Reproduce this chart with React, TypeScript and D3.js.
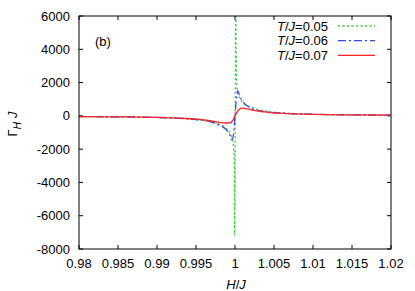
import { useEffect, useRef } from 'react'
import * as d3 from 'd3'

// Γ_H J vs H/J near the critical field, three temperatures
const xTicks = [0.98, 0.985, 0.99, 0.995, 1, 1.005, 1.01, 1.015, 1.02]
const yTicks = [-8000, -6000, -4000, -2000, 0, 2000, 4000, 6000]

const seriesT005: [number, number][] = [
  [0.98, -45], [0.985, -60], [0.99, -95], [0.993, -150], [0.995, -220], [0.997, -380],
  [0.998, -520], [0.9988, -700], [0.9993, -1000], [0.9996, -1300], [0.9998, -1800],
  [0.99991, -3000], [0.99996, -7200], [1.00003, 0], [1.0001, 7200], [1.00016, 3000],
  [1.00026, 1800], [1.0004, 1300], [1.0007, 1000], [1.0012, 700], [1.002, 520],
  [1.003, 380], [1.005, 220], [1.007, 150], [1.01, 95], [1.015, 60], [1.02, 45],
]
const seriesT006: [number, number][] = [
  [0.98, -45], [0.985, -60], [0.99, -95], [0.993, -150], [0.995, -220], [0.997, -380],
  [0.998, -560], [0.9988, -800], [0.9993, -1100], [0.9996, -1440], [0.9998, -1150],
  [1.0, 0], [1.0002, 1150], [1.00035, 1520], [1.0006, 1180], [1.001, 850],
  [1.0015, 620], [1.002, 480], [1.003, 320], [1.005, 200], [1.007, 140],
  [1.01, 95], [1.015, 60], [1.02, 45],
]
const seriesT007: [number, number][] = [
  [0.98, -45], [0.985, -60], [0.99, -90], [0.993, -140], [0.995, -200], [0.997, -310],
  [0.998, -390], [0.9988, -430], [0.9993, -420], [0.9997, -280], [1.0, 0],
  [1.0003, 250], [1.0006, 410], [1.0009, 460], [1.0013, 440], [1.002, 370],
  [1.003, 280], [1.005, 180], [1.007, 130], [1.01, 90], [1.015, 60], [1.02, 45],
]
const temps = ['0.05', '0.06', '0.07']

export default function App() {
  const ref = useRef<SVGSVGElement>(null)

  useEffect(() => {
    const svg = d3.select(ref.current)
    svg.selectAll('*').remove()

    const m = { left: 79, right: 391, top: 16, bottom: 249 }
    const x = d3.scaleLinear().domain([0.98, 1.02]).range([m.left, m.right])
    const y = d3.scaleLinear().domain([-8000, 6000]).range([m.bottom, m.top])
    const font = 'Liberation Sans, Arial, sans-serif'

    svg.append('defs').append('clipPath').attr('id', 'plotclip')
      .append('rect')
      .attr('x', m.left).attr('y', m.top)
      .attr('width', m.right - m.left).attr('height', m.bottom - m.top)

    // ticks, mirrored on all four sides
    const tl = 4
    const tg = svg.append('g').attr('stroke', '#000').attr('stroke-width', 1)
    xTicks.forEach(t => {
      tg.append('line').attr('x1', x(t)).attr('x2', x(t)).attr('y1', m.bottom).attr('y2', m.bottom - tl)
      tg.append('line').attr('x1', x(t)).attr('x2', x(t)).attr('y1', m.top).attr('y2', m.top + tl)
    })
    yTicks.forEach(t => {
      tg.append('line').attr('x1', m.left).attr('x2', m.left + tl).attr('y1', y(t)).attr('y2', y(t))
      tg.append('line').attr('x1', m.right).attr('x2', m.right - tl).attr('y1', y(t)).attr('y2', y(t))
    })

    svg.append('g').selectAll('text').data(xTicks).enter().append('text')
      .attr('x', d => x(d)).attr('y', 268)
      .attr('text-anchor', 'middle')
      .style('font-family', font).style('font-size', '13px')
      .text(d => String(d))

    svg.append('g').selectAll('text').data(yTicks).enter().append('text')
      .attr('x', 70).attr('y', d => y(d) + 4.5)
      .attr('text-anchor', 'end')
      .style('font-family', font).style('font-size', '13px')
      .text(d => String(d))

    // curves
    const line = d3.line<[number, number]>()
      .x(d => x(d[0])).y(d => y(d[1]))
      .curve(d3.curveMonotoneX)
    const plot = svg.append('g').attr('clip-path', 'url(#plotclip)')
    const styles = [
      { data: seriesT005, color: '#33cc33', dash: '2,2.5' },
      { data: seriesT006, color: '#3344ff', dash: '8,3,2,3' },
      { data: seriesT007, color: '#ff2020', dash: null },
    ]
    styles.forEach(s => {
      plot.append('path')
        .attr('d', line(s.data))
        .attr('fill', 'none')
        .attr('stroke', s.color)
        .attr('stroke-width', 1.3)
        .attr('stroke-dasharray', s.dash)
    })

    // frame
    svg.append('rect')
      .attr('x', m.left).attr('y', m.top)
      .attr('width', m.right - m.left).attr('height', m.bottom - m.top)
      .attr('fill', 'none').attr('stroke', '#000').attr('stroke-width', 1)

    // legend
    const rows = [26, 40.7, 55.3]
    styles.forEach((s, i) => {
      const t = svg.append('text')
        .attr('x', 328).attr('y', rows[i] + 4.5)
        .attr('text-anchor', 'end')
        .style('font-family', font).style('font-size', '13px')
      t.append('tspan').style('font-style', 'italic').text('T')
      t.append('tspan').text('/')
      t.append('tspan').style('font-style', 'italic').text('J')
      t.append('tspan').text('=' + temps[i])
      svg.append('line')
        .attr('x1', 338).attr('x2', 375).attr('y1', rows[i]).attr('y2', rows[i])
        .attr('stroke', s.color).attr('stroke-width', 1.3)
        .attr('stroke-dasharray', s.dash)
    })

    svg.append('text')
      .attr('x', 95).attr('y', 46)
      .style('font-family', font).style('font-size', '13px')
      .text('(b)')

    // axis labels
    const xl = svg.append('text')
      .attr('x', 236).attr('y', 289)
      .attr('text-anchor', 'middle')
      .style('font-family', font).style('font-size', '13px')
    xl.append('tspan').style('font-style', 'italic').text('H')
    xl.append('tspan').text('/')
    xl.append('tspan').style('font-style', 'italic').text('J')

    const yl = svg.append('text')
      .attr('transform', 'translate(17,124) rotate(-90)')
      .attr('text-anchor', 'middle')
      .style('font-family', font).style('font-size', '13px')
    yl.append('tspan').text('Γ')
    yl.append('tspan').style('font-style', 'italic').style('font-size', '10px').attr('dy', 4).text('H')
    yl.append('tspan').style('font-style', 'italic').attr('dy', -4).attr('dx', 4).text('J')
  }, [])

  return <svg ref={ref} width={415} height={291}
    style={{ position: 'absolute', left: 0, top: 0, background: '#fff' }} />
}
